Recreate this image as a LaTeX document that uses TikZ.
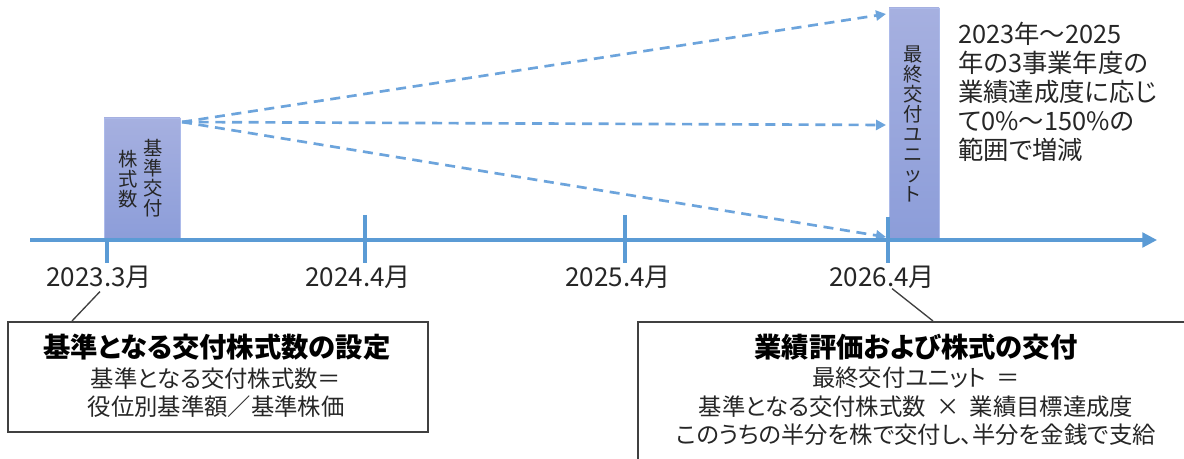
\documentclass[tikz,border=0pt]{standalone}
\usepackage{fontspec}
\setmainfont{Noto Sans CJK JP}[RawFeature=+palt]
\usetikzlibrary{arrows.meta,calc,fit}
\definecolor{axisblue}{RGB}{91,155,213}
\definecolor{dashblue}{RGB}{108,164,220}
\definecolor{boxtop}{RGB}{166,176,224}
\definecolor{boxbot}{RGB}{140,157,217}
\definecolor{boxedge}{RGB}{172,186,234}
\definecolor{txt}{RGB}{38,38,38}
\definecolor{framegray}{RGB}{64,64,64}
\tikzset{
  axisline/.style={axisblue, line width=2.4pt, -{Triangle[length=11pt,width=11pt]}},
  tickline/.style={axisblue, line width=2.5pt},
  fan/.style={dashblue, line width=2pt, dash pattern=on 7.5pt off 5pt, -{Triangle[length=7.5pt,width=7.5pt]}},
  unitbox/.style={draw=boxedge, line width=0.6pt, top color=boxtop, bottom color=boxbot, inner sep=0pt},
  vtext/.style={align=center, text=txt, font=\fontsize{14.5pt}{15pt}\selectfont, inner sep=0pt},
  datelabel/.style={text=txt, font=\fontsize{19.5pt}{22pt}\selectfont, inner sep=0pt},
  infobox/.style={draw=framegray, line width=1.5pt, inner sep=0pt},
  callout/.style={framegray, line width=1pt},
  ttl/.style={font=\bfseries\fontsize{20.5pt}{24pt}\selectfont, text=black, inner sep=0pt},
  body/.style={font=\fontsize{17.5pt}{21.5pt}\selectfont, text=txt, align=center, inner sep=0pt},
  note/.style={anchor=north west, align=left, font=\fontsize{19pt}{21.75pt}\selectfont, text=txt, inner sep=0pt},
}
\begin{document}
\begin{tikzpicture}[x=0.75pt,y=-0.75pt]
\clip (0,0) rectangle (1184,459);
\fill[white] (0,0) rectangle (1184,459);

% fan of dashed arrows
\coordinate (s) at (182,122);
\coordinate (e1) at (886,14);
\coordinate (e2) at (886,125);
\coordinate (e3) at (886,237);
\draw[fan] (s) -- (e1);
\draw[fan] (s) -- (e2);
\draw[fan] (s) -- (e3);

% unit boxes
\node[unitbox, fit={(104,118) (180,240)}] (lbox) {};
\node[unitbox, fit={(889,8) (939,240)}] (rbox) {};
\node[vtext] (lcol1) at (153,178) {基\\準\\交\\付};
\node[vtext] (lcol2) at (128,179) {株\\式\\数};
\node[vtext] (rcol) at (913,124) {最\\終\\交\\付\\ユ\\ニ\\ッ\\ト};

% axis and ticks
\coordinate (ax0) at (30,240);
\coordinate (ax1) at (1157,240);
\draw[axisline] (ax0) -- (ax1);
\coordinate (t1a) at (107,240); \coordinate (t1b) at (107,263);
\coordinate (t2a) at (365,215); \coordinate (t2b) at (365,263);
\coordinate (t3a) at (625,215); \coordinate (t3b) at (625,263);
\coordinate (t4a) at (888,217); \coordinate (t4b) at (888,263);
\draw[tickline] (t1a) -- (t1b);
\draw[tickline] (t2a) -- (t2b);
\draw[tickline] (t3a) -- (t3b);
\draw[tickline] (t4a) -- (t4b);

% date labels
\node[datelabel] (d1) at (99,277) {2023.3月};
\node[datelabel] (d2) at (358,277) {2024.4月};
\node[datelabel] (d3) at (618,277) {2025.4月};
\node[datelabel] (d4) at (882,277) {2026.4月};

% note text
\node[note] (nt) at (958,22) {2023年～2025\\年の3事業年度の\\業績達成度に応じ\\て0\%～150\%の\\範囲で増減};

% info boxes
\node[infobox, fit={(8,322) (428,432)}] (ibl) {};
\node[infobox, fit={(638,322) (1196,480)}] (ibr) {};
\draw[callout] ($(d1.south)+(1,3)$) -- ($(ibl.north west)+(65,0)$);
\draw[callout] ($(d4.south)+(10,0)$) -- ($(ibr.north west)+(296,0)$);

\node[ttl] (lt) at (217,347) {基準となる交付株式数の設定};
\node[body] (lb) at (216,392.5) {基準となる交付株式数＝\\役位別基準額／基準株価};
\node[ttl] (rt) at (916,347) {業績評価および株式の交付};
\node[body] (rb) at (916,406.5) {最終交付ユニット\ \ ＝\\基準となる交付株式数\ \ ×\ \ 業績目標達成度\\このうちの半分を株で交付し、半分を金銭で支給};
\end{tikzpicture}
\end{document}
